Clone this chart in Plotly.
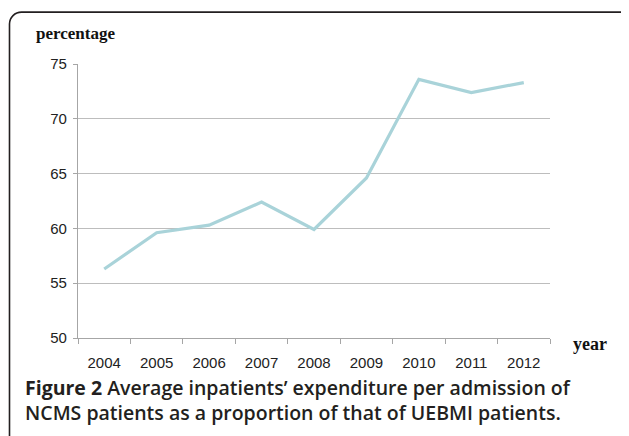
import plotly.graph_objects as go

years = ["2004", "2005", "2006", "2007", "2008", "2009", "2010", "2011", "2012"]
percentage = [56.3, 59.6, 60.3, 62.4, 59.9, 64.6, 73.6, 72.4, 73.3]
y_ticks = [50, 55, 60, 65, 70, 75]

W, H = 629, 436
OFF = 8  # page body margin offset
L, R, T, B = 78 - OFF, 550 - OFF, 64 - OFF, 338.5 - OFF
pw, ph = R - L, B - T

def px(x):
    return (x - OFF - L) / pw

def py(y):
    return (B - (y - OFF)) / ph

fig = go.Figure()
fig.add_trace(go.Scatter(
    x=years, y=percentage, mode="lines",
    line=dict(color="#A9D3D9", width=3.2),
    hoverinfo="skip", showlegend=False,
))

# rounded border path in paper coordinates (reference pixel coords)
x0, x1, y0, y1, r = 9.5, 634, 12, 446, 12
k = 0.45
path = (
    f"M {px(x0)},{py(y1)} L {px(x0)},{py(y0 + r)} "
    f"C {px(x0)},{py(y0 + r*k)} {px(x0 + r*k)},{py(y0)} {px(x0 + r)},{py(y0)} "
    f"L {px(x1 - r)},{py(y0)} "
    f"C {px(x1 - r*k)},{py(y0)} {px(x1)},{py(y0 + r*k)} {px(x1)},{py(y0 + r)} "
    f"L {px(x1)},{py(y1)}"
)
fig.add_shape(type="path", xref="paper", yref="paper", path=path,
              line=dict(color="#231F20", width=1.6), layer="above")

fig.add_annotation(x=px(34), y=py(33.5), xref="paper", yref="paper",
                   text="<b>percentage</b>", showarrow=False,
                   xanchor="left", yanchor="middle",
                   font=dict(family="Liberation Serif", size=17, color="#111111"))
fig.add_annotation(x=px(571), y=py(345), xref="paper", yref="paper",
                   text="<b>year</b>", showarrow=False,
                   xanchor="left", yanchor="middle",
                   font=dict(family="Liberation Serif", size=18, color="#111111"))

fig.add_annotation(x=px(23), y=py(400.5), xref="paper", yref="paper",
                   text="<b>Figure 2</b> Average inpatients’ expenditure per admission of<br>"
                        "NCMS patients as a proportion of that of UEBMI patients.",
                   showarrow=False, xanchor="left", yanchor="middle", align="left",
                   font=dict(family="Open Sans", size=19.5, color="#231F20", weight=600))

fig.update_layout(
    width=W, height=H,
    margin=dict(l=L, r=W - R, t=T, b=H - B, pad=0),
    paper_bgcolor="white", plot_bgcolor="white",
    xaxis=dict(
        type="category", range=[-0.5, 8.5], tickson="boundaries",
        ticks="outside", ticklen=5, tickcolor="#A6A6A6", tickwidth=1,
        showgrid=False, showline=True, linecolor="#A6A6A6", linewidth=1.2,
        ticklabelstandoff=11,
        tickfont=dict(family="Liberation Sans", size=15, color="#222222"),
        fixedrange=True,
    ),
    yaxis=dict(
        range=[50, 75], tickvals=y_ticks, ticks="outside", ticklen=4,
        tickcolor="#A6A6A6", showgrid=True, gridcolor="#BDBDBD", gridwidth=1.2,
        showline=True, linecolor="#A6A6A6", linewidth=1.2, zeroline=False,
        ticklabelstandoff=3,
        tickfont=dict(family="Liberation Sans", size=15, color="#222222"),
        fixedrange=True,
    ),
)

fig.write_html("out.html")
